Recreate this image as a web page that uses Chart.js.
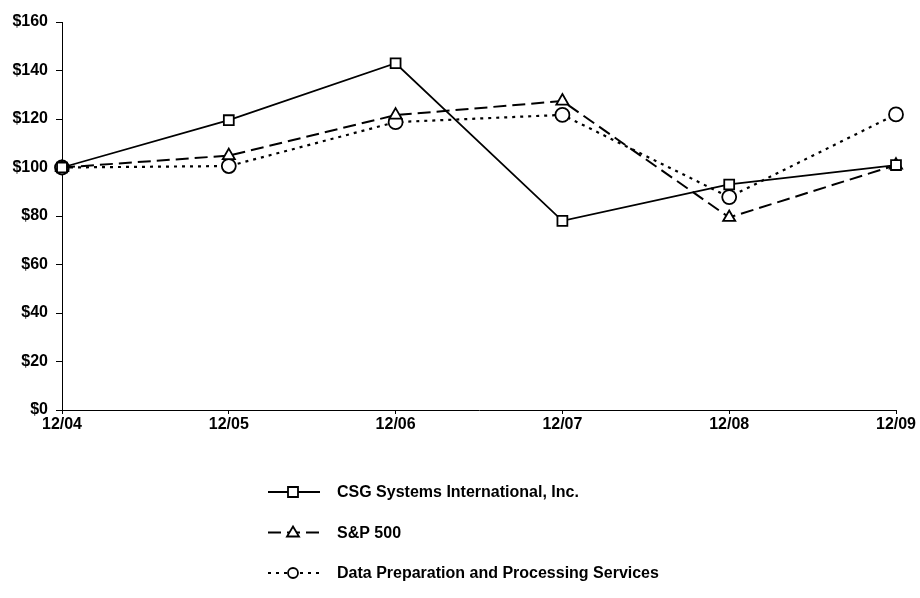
<!DOCTYPE html>
<html>
<head>
<meta charset="utf-8">
<script src="https://cdn.jsdelivr.net/npm/chart.js@4.4.1/dist/chart.umd.min.js"></script>
<style>
  html, body { margin: 0; padding: 0; background: #fff; }
  #wrap { width: 920px; height: 598px; }
</style>
</head>
<body>
<div id="wrap"><canvas id="perf"></canvas></div>
<script>
const periods = ['12/04', '12/05', '12/06', '12/07', '12/08', '12/09'];
const csgValues = [100, 119.5, 143, 78, 93, 101];
const spValues = [100, 104.9, 121.6, 127.4, 79.4, 101];
const dataPrepValues = [100, 100.6, 118.7, 121.7, 87.8, 121.9];
const yTicks = [0, 20, 40, 60, 80, 100, 120, 140, 160];

const FONT = "'Liberation Sans', Arial, sans-serif";

// draws a legend under the plot: line sample + marker + label
const lineLegend = {
  id: 'lineLegend',
  afterDraw(chart) {
    const c = chart.ctx;
    chart.data.datasets.forEach((ds, i) => {
      const y = 492 + i * 40.5;
      c.save();
      c.strokeStyle = '#000';
      c.lineWidth = 1.8;
      c.setLineDash(ds.borderDash || []);
      c.beginPath();
      c.moveTo(268, y);
      c.lineTo(320, y);
      c.stroke();
      c.setLineDash([]);
      const mx = 293, r = 5;
      c.fillStyle = '#fff';
      c.beginPath();
      if (ds.pointStyle === 'rect') {
        c.rect(mx - r, y - r, r * 2, r * 2);
      } else if (ds.pointStyle === 'triangle') {
        c.moveTo(mx, y - r - 1);
        c.lineTo(mx + r + 1, y + r - 1);
        c.lineTo(mx - r - 1, y + r - 1);
        c.closePath();
      } else {
        c.arc(mx, y, r, 0, Math.PI * 2);
      }
      c.fill();
      c.lineWidth = 1.8;
      c.stroke();
      c.fillStyle = '#000';
      c.font = 'bold 16px ' + FONT;
      c.textBaseline = 'middle';
      c.fillText(ds.label, 337, y + 1);
      c.restore();
    });
  }
};

const base = {
  borderColor: '#000',
  borderWidth: 1.8,
  pointRadius: 7,
  pointBorderWidth: 1.8,
  pointBackgroundColor: '#fff',
  pointBorderColor: '#000',
  tension: 0,
  fill: false
};

new Chart(document.getElementById('perf'), {
  type: 'line',
  data: {
    labels: periods,
    datasets: [
      Object.assign({}, base, { label: 'CSG Systems International, Inc.', data: csgValues, pointStyle: 'rect' }),
      Object.assign({}, base, { label: 'S&P 500', data: spValues, pointStyle: 'triangle', borderDash: [13, 6], borderWidth: 2 }),
      Object.assign({}, base, { label: 'Data Preparation and Processing Services', data: dataPrepValues, pointStyle: 'circle', borderDash: [3, 5], borderWidth: 2.2 })
    ]
  },
  options: {
    responsive: true,
    maintainAspectRatio: false,
    animation: false,
    layout: { padding: { top: 22, right: 24, left: 0, bottom: 0 } },
    plugins: { legend: { display: false }, tooltip: { enabled: false } },
    scales: {
      x: {
        offset: false,
        afterFit: s => { s.height = 188; },
        grid: { drawOnChartArea: false, color: '#000', tickLength: 4 },
        border: { color: '#000', width: 1 },
        ticks: { color: '#000', font: { family: FONT, size: 16, weight: 'bold' }, padding: 1, maxRotation: 0 }
      },
      y: {
        min: 0,
        max: 160,
        afterFit: s => { s.width = 62; },
        afterBuildTicks: s => { s.ticks = yTicks.map(v => ({ value: v })); },
        grid: { drawOnChartArea: false, color: '#000', tickLength: 6 },
        border: { color: '#000', width: 1 },
        ticks: { color: '#000', font: { family: FONT, size: 16, weight: 'bold' }, padding: 8, callback: v => '$' + v }
      }
    }
  },
  plugins: [lineLegend]
});
</script>
</body>
</html>
